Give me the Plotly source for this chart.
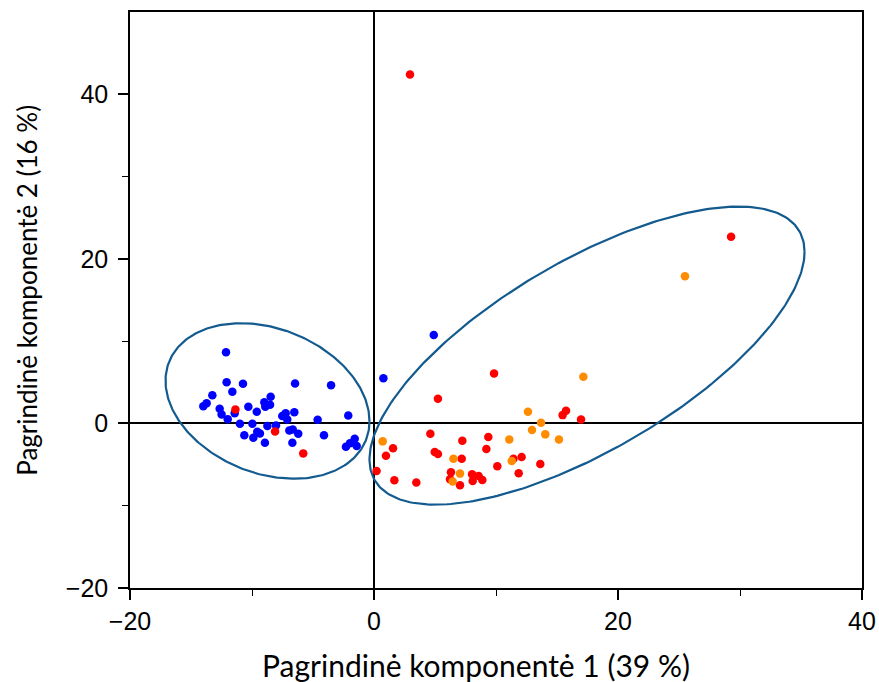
import numpy as np
import plotly.graph_objects as go

# PCA scores, grouped by sample class
blue_x = [-12.13, -12.08, -10.74, -6.47, -3.52, -11.61, -13.25, -13.72, -13.99, -12.65,
          -12.49, -11.42, -11.99, -10.30, -9.61, -8.99, -8.47, -8.52, -8.91, -10.99,
          -9.97, -8.74, -8.03, -10.63, -9.89, -9.57, -9.35, -8.94, -7.52, -7.24,
          -7.11, -6.53, -6.94, -6.66, -6.21, -6.69, -4.62, -4.10, -2.11, -2.30,
          -1.97, -1.58, -1.42, 0.77, 4.90]
blue_y = [8.64, 5.0, 4.81, 4.85, 4.65, 3.84, 3.43, 2.46, 2.10, 1.78,
          1.09, 1.25, 0.52, 2.02, 1.41, 2.58, 3.23, 2.26, 2.02, -0.04,
          -0.04, -0.32, -0.24, -1.45, -1.74, -1.01, -1.21, -2.34, 0.89, 1.25,
          0.48, 1.37, -0.85, -0.73, -1.25, -2.34, 0.45, -1.45, 0.97, -2.83,
          -2.42, -1.86, -2.75, 5.5, 10.75]

red_x = [-11.36, -8.11, -5.80, 9.84, 5.24, 4.62, 1.56, 0.98, 0.21, 1.67,
         3.47, 4.98, 5.24, 7.24, 7.19, 6.31, 6.23, 7.05, 8.04, 8.09,
         8.58, 8.88, 9.37, 9.21, 10.11, 11.43, 12.10, 11.86, 13.63, 15.46,
         15.74, 16.97, 29.27, 2.95]
red_y = [1.70, -0.97, -3.64, 6.06, 2.99, -1.25, -3.03, -3.92, -5.78, -6.91,
         -7.19, -3.47, -3.72, -2.10, -4.28, -5.94, -6.79, -7.52, -6.18, -6.99,
         -6.38, -6.87, -1.66, -3.11, -5.21, -4.28, -4.08, -6.06, -4.93, 1.01,
         1.54, 0.48, 22.7, 42.4]

orange_x = [0.71, 6.51, 7.05, 6.45, 11.09, 11.29, 12.62, 13.69, 12.95, 14.04,
            15.16, 17.16, 25.49]
orange_y = [-2.18, -4.28, -6.10, -7.07, -1.94, -4.57, 1.41, 0.08, -0.81, -1.33,
            -1.94, 5.66, 17.9]

# Group ellipses: centre, half-extent along x and y, phase between the two
ellipse_left = dict(cx=-8.73, cy=2.73, wx=8.36, wy=9.45, phase=1.308)
ellipse_right = dict(cx=17.46, cy=8.24, wx=17.83, wy=18.11, phase=2.341)

tick_vals = [-20, 0, 20, 40]
tick_text = ["\u221220", "0", "20", "40"]


def ellipse_path(e, n=300):
    t = np.linspace(0, 2 * np.pi, n)
    x = e["cx"] + e["wx"] * np.cos(t)
    y = e["cy"] - e["wy"] * np.cos(t + e["phase"])
    return x, y


fig = go.Figure()

for e in (ellipse_left, ellipse_right):
    ex, ey = ellipse_path(e)
    fig.add_trace(go.Scatter(x=ex, y=ey, mode="lines",
                             line=dict(color="#135a8f", width=2.2),
                             hoverinfo="skip", showlegend=False))

for xs, ys, col in ((blue_x, blue_y, "#0000ff"),
                    (red_x, red_y, "#ff0000"),
                    (orange_x, orange_y, "#ff8c00")):
    fig.add_trace(go.Scatter(x=xs, y=ys, mode="markers",
                             marker=dict(color=col, size=8.5, line=dict(width=0)),
                             showlegend=False))

axis_common = dict(showgrid=False, showline=True, linecolor="black", linewidth=1.5,
                   mirror=True, ticks="outside", ticklen=10, tickwidth=1.5,
                   tickcolor="black", zeroline=True, zerolinecolor="black",
                   zerolinewidth=1.5, automargin=False,
                   tickfont=dict(family="Liberation Sans", size=25, color="black"))

fig.update_xaxes(range=[-20, 40], tickvals=tick_vals, ticktext=tick_text,
                 minor=dict(tickvals=[-10, 10, 30], ticks="outside", ticklen=6,
                            tickcolor="black", tickwidth=1.3),
                 **axis_common)
fig.update_yaxes(range=[-20, 50], tickvals=tick_vals, ticktext=tick_text,
                 ticklabelstandoff=5,
                 minor=dict(tickvals=[-10, 10, 30], ticks="outside", ticklen=6,
                            tickcolor="black", tickwidth=1.3),
                 **axis_common)

fig.add_annotation(text="Pagrindinė komponentė 1 (39 %)", xref="paper", yref="paper",
                   x=0.4727, y=-0.1337, xanchor="center", yanchor="middle",
                   showarrow=False, font=dict(family="Lato", size=30, color="black"))
fig.add_annotation(text="Pagrindinė komponentė 2 (16 %)", xref="paper", yref="paper",
                   x=-0.1407, y=0.516, textangle=-90, xanchor="center",
                   yanchor="middle", showarrow=False,
                   font=dict(family="Lato", size=26, color="black"))

fig.update_layout(width=879, height=682,
                  margin=dict(l=130, r=17, t=12, b=94, autoexpand=False),
                  plot_bgcolor="white", paper_bgcolor="white")

fig.write_html("out.html")
